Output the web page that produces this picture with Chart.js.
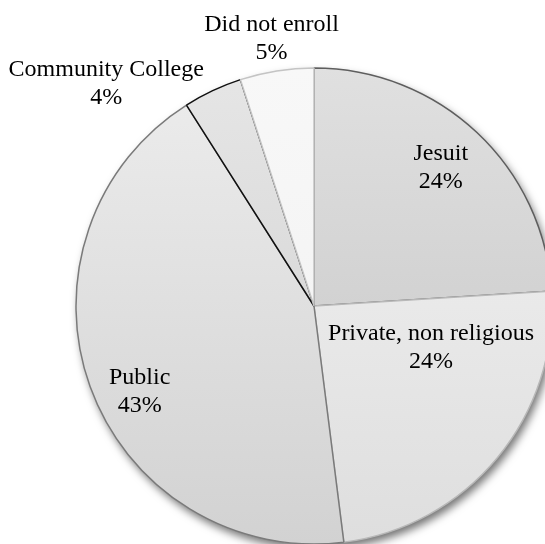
<!DOCTYPE html>
<html>
<head>
<meta charset="utf-8">
<script src="https://cdn.jsdelivr.net/npm/chart.js@4"></script>
<style>
  html, body { margin: 0; padding: 0; background: #fff; overflow: hidden; }
  #wrap { width: 545px; height: 544px; }
</style>
</head>
<body>
<div id="wrap"><canvas id="pie"></canvas></div>
<script>
// ===== 資料 =====
const categories = ["Jesuit", "Private, non religious", "Public", "Community College", "Did not enroll"];
const shares = [24, 24, 43, 4, 5];   // 百分比

// 每塊的漸層 (上, 下) 與邊框
const fillTop = ["#e0e0e0", "#f4f4f4", "#ededed", "#e6e6e6", "#f8f8f8"];
const fillBottom = ["#c4c4c4", "#dedede", "#d2d2d2", "#cecece", "#f0f0f0"];
const edgeColors = ["#5e5e5e", "#b8b8b8", "#7a7a7a", "#111111", "#c4c4c4"];

// 標籤位置：角度(自正上方順時針) 與 半徑倍數
const labelPlace = [
  { angle: 42.4, dist: 0.79 },
  { angle: 109, dist: 0.52 },
  { angle: 244, dist: 0.815 },
  { angle: 317, dist: 1.28 },
  { angle: 351, dist: 1.14 }
];

const PIE_R = 238;

// 依圖表區中心做由上而下的灰階漸層
function sliceFill(context) {
  const chart = context.chart;
  const i = context.dataIndex;
  const area = chart.chartArea;
  if (!area) return fillTop[i];
  const cy = (area.top + area.bottom) / 2;
  const g = chart.ctx.createLinearGradient(0, cy - PIE_R, 0, cy + PIE_R);
  g.addColorStop(0, fillTop[i]);
  g.addColorStop(1, fillBottom[i]);
  return g;
}

// ===== 陰影 =====
const shadowPlugin = {
  id: "pieShadow",
  beforeDatasetsDraw(chart) {
    const arc = chart.getDatasetMeta(0).data[0];
    if (!arc) return;
    const ctx = chart.ctx;
    ctx.save();
    ctx.shadowColor = "rgba(0,0,0,0.55)";
    ctx.shadowBlur = 8;
    ctx.shadowOffsetX = 3;
    ctx.shadowOffsetY = 5;
    ctx.fillStyle = "#dddddd";
    ctx.beginPath();
    ctx.arc(arc.x, arc.y, arc.outerRadius, 0, Math.PI * 2);
    ctx.fill();
    ctx.restore();
  }
};

// ===== 標籤 =====
const labelPlugin = {
  id: "sliceLabels",
  afterDatasetsDraw(chart) {
    const meta = chart.getDatasetMeta(0);
    const ctx = chart.ctx;
    ctx.save();
    ctx.font = "24px 'Liberation Serif', 'Times New Roman', serif";
    ctx.fillStyle = "#000";
    ctx.textAlign = "center";
    ctx.textBaseline = "middle";
    meta.data.forEach((arc, i) => {
      const p = labelPlace[i];
      const a = p.angle * Math.PI / 180;
      const x = arc.x + Math.sin(a) * arc.outerRadius * p.dist;
      const y = arc.y - Math.cos(a) * arc.outerRadius * p.dist;
      ctx.fillText(categories[i], x, y - 13);
      ctx.fillText(shares[i] + "%", x, y + 15);
    });
    ctx.restore();
  }
};

new Chart(document.getElementById("pie"), {
  type: "pie",
  data: {
    labels: categories,
    datasets: [{
      data: shares,
      backgroundColor: sliceFill,
      borderColor: edgeColors,
      borderWidth: 1.5,
      radius: PIE_R,
      clip: false
    }]
  },
  options: {
    responsive: true,
    maintainAspectRatio: false,
    animation: false,
    layout: { padding: { left: 83, right: 0, top: 68, bottom: 0 } },
    plugins: {
      legend: { display: false },
      tooltip: { enabled: false }
    }
  },
  plugins: [shadowPlugin, labelPlugin]
});
</script>
</body>
</html>
